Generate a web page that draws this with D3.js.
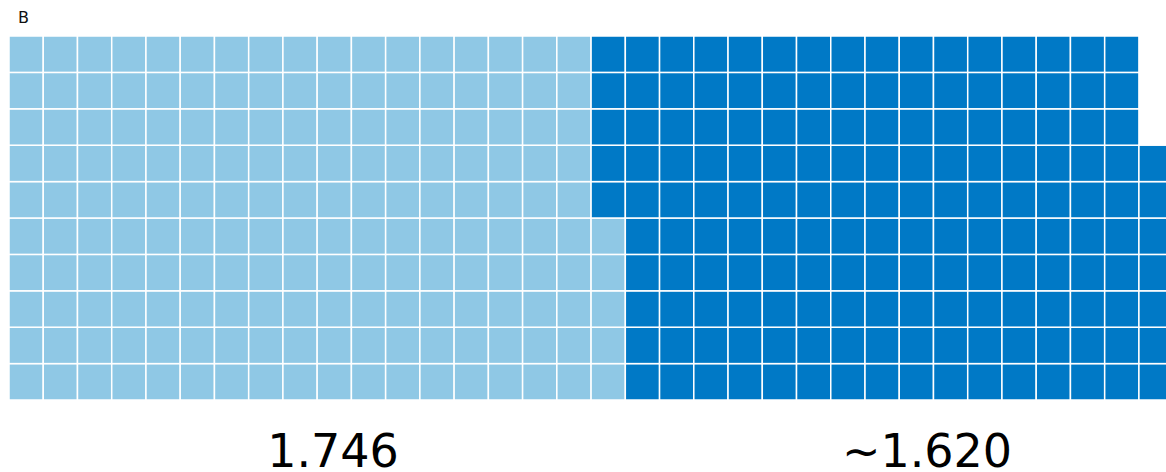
<!DOCTYPE html>
<html>
<head>
<meta charset="utf-8">
<script src="https://cdn.jsdelivr.net/npm/d3@7"></script>
<style>
html,body{margin:0;padding:0;background:#fff;overflow:hidden;}
svg{display:block;}
</style>
</head>
<body>
<svg id="chart" width="1166" height="472"></svg>
<script>
const categories = ["A", "B"];
const seriesValues = [1.746, 1.620];
const valueLabels = ["1.746", "~1.620"];
const colors = ["#8fc8e5", "#0079c6"];
const panelLabel = "B";
const unitPerCell = 0.01;
const rowsCount = 10;
const colsCount = 34;

const svg = d3.select("#chart");

// build cells, column-major, filled bottom-to-top
const cells = [];
let idx = 0;
seriesValues.forEach((v, si) => {
  const n = Math.round(v / unitPerCell);
  for (let k = 0; k < n; k++) {
    const col = Math.floor(idx / rowsCount);
    const row = rowsCount - 1 - (idx % rowsCount);
    cells.push({col, row, s: si});
    idx++;
  }
});

const cellW = 34.24;
const x = d3.scaleLinear().domain([0, colsCount]).range([9, 9 + colsCount * cellW]);
const y = d3.scaleBand().domain(d3.range(rowsCount)).range([36, 400]).padding(0);

svg.append("g").selectAll("rect").data(cells).join("rect")
  .attr("x", d => x(d.col))
  .attr("y", d => y(d.row))
  .attr("width", x(1) - x(0))
  .attr("height", y.bandwidth())
  .attr("fill", d => colors[d.s])
  .attr("stroke", "#ffffff")
  .attr("stroke-width", 1.5);

svg.append("text")
  .attr("x", 18).attr("y", 23)
  .attr("font-family", "DejaVu Sans, Verdana, sans-serif")
  .attr("font-size", 16)
  .attr("fill", "#111")
  .text(panelLabel);

const labelX = d3.scalePoint().domain(categories).range([333, 927]);
svg.append("g").selectAll("text").data(categories).join("text")
  .attr("x", d => labelX(d))
  .attr("y", 467)
  .attr("text-anchor", "middle")
  .attr("font-family", "DejaVu Sans, Verdana, sans-serif")
  .attr("font-size", 46)
  .attr("fill", "#000")
  .text((d, i) => valueLabels[i]);
</script>
</body>
</html>
